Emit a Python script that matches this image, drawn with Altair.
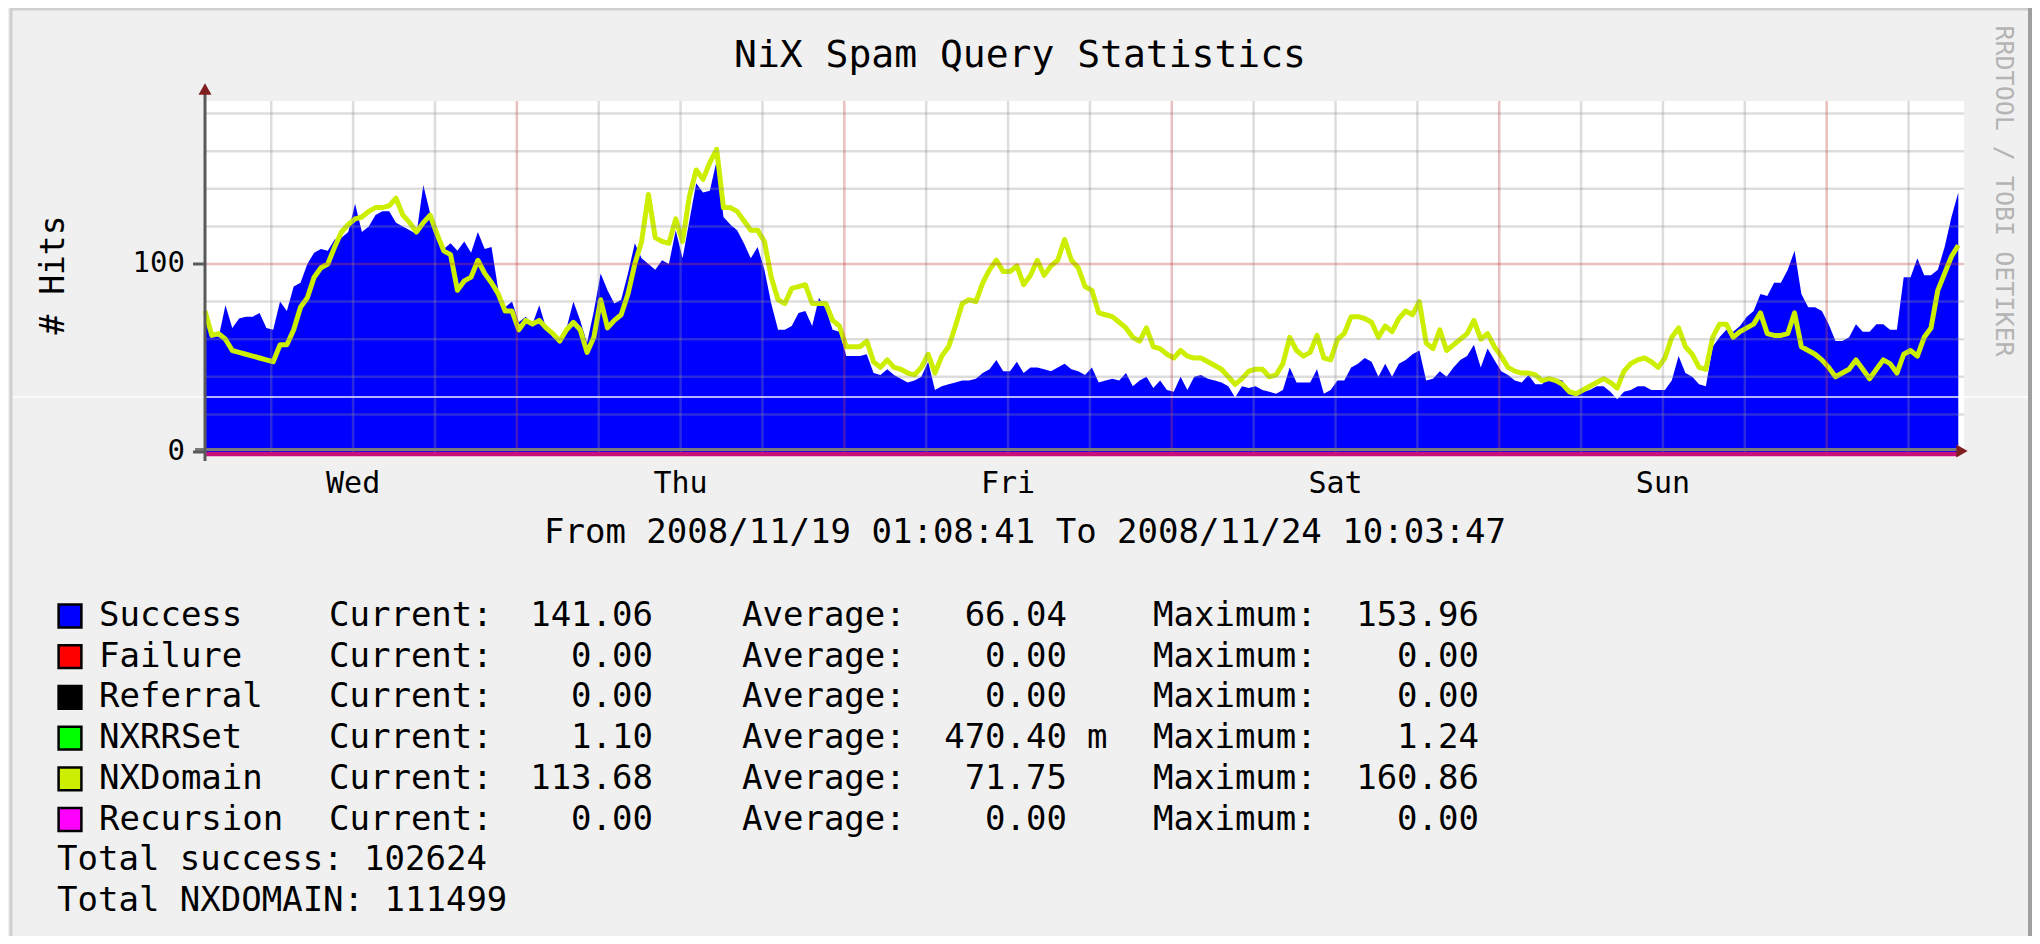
import altair as alt
import pandas as pd

# ---------------- texts ----------------
TITLE = "NiX Spam Query Statistics"
Y_TITLE = "# Hits"
WATERMARK = "RRDTOOL / TOBI OETIKER"
START = "2008-11-19 01:08:41"
END = "2008-11-24 10:03:47"
FONT = "DejaVu Sans Mono"

# ---------------- series (one value every half hour from START) ----------------
STEP_HOURS = 0.5
success = [
    77, 63, 61, 78, 66, 71, 72, 72, 74, 66,
    65, 80, 75, 88, 90, 100, 106, 108, 107, 113,
    114, 117, 132, 117, 120, 126, 128, 128, 122, 120,
    118, 116, 142, 127, 113, 108, 111, 107, 112, 106,
    117, 108, 109, 86, 77, 80, 69, 72, 68, 78,
    66, 61, 60, 66, 80, 70, 58, 75, 95, 86,
    79, 81, 95, 111, 103, 100, 97, 102, 100, 118,
    103, 123, 143, 138, 139, 155, 125, 121, 118, 111,
    103, 109, 97, 79, 65, 65, 67, 74, 75, 67,
    82, 76, 65, 64, 51, 51, 51, 52, 42, 41,
    44, 41, 39, 37, 38, 40, 48, 33, 35, 36,
    37, 38, 38, 39, 42, 44, 49, 43, 43, 48,
    42, 45, 45, 44, 43, 45, 47, 44, 43, 41,
    45, 37, 38, 39, 38, 42, 35, 38, 40, 34,
    38, 33, 32, 40, 33, 40, 41, 39, 38, 37,
    35, 29, 35, 34, 35, 33, 32, 31, 33, 45,
    37, 37, 37, 44, 31, 33, 38, 38, 45, 47,
    50, 48, 40, 47, 40, 47, 49, 52, 54, 38,
    39, 43, 40, 45, 49, 51, 57, 45, 55, 49,
    43, 41, 38, 37, 41, 36, 36, 40, 39, 38,
    31, 31, 32, 33, 35, 35, 32, 28, 32, 33,
    35, 35, 33, 33, 33, 38, 51, 42, 40, 36,
    35, 56, 61, 65, 64, 67, 72, 75, 84, 83,
    90, 90, 97, 107, 84, 77, 77, 75, 68, 59,
    59, 61, 68, 64, 64, 68, 68, 65, 65, 93,
    93, 103, 94, 94, 97, 109, 125, 138,
]
nxdomain = [
    75, 62, 63, 60, 54, 53, 52, 51, 50, 49,
    48, 57, 57, 65, 77, 82, 93, 98, 100, 109,
    117, 121, 124, 125, 128, 130, 130, 131, 135, 126,
    122, 117, 122, 126, 116, 107, 105, 86, 91, 93,
    102, 95, 90, 84, 75, 75, 65, 70, 68, 70,
    66, 63, 59, 65, 69, 65, 53, 61, 81, 66,
    70, 73, 84, 100, 112, 137, 114, 112, 111, 124,
    112, 136, 150, 145, 154, 161, 130, 130, 128, 123,
    118, 118, 112, 93, 81, 79, 87, 88, 89, 79,
    79, 79, 70, 67, 56, 56, 56, 59, 48, 45,
    49, 45, 44, 42, 41, 45, 52, 42, 51, 56,
    67, 79, 81, 80, 90, 97, 102, 96, 96, 99,
    89, 94, 102, 94, 99, 102, 113, 102, 98, 88,
    86, 74, 73, 72, 69, 66, 61, 59, 66, 56,
    55, 52, 50, 54, 51, 50, 50, 48, 46, 44,
    40, 36, 39, 43, 44, 44, 40, 41, 47, 61,
    54, 51, 53, 62, 50, 49, 60, 63, 72, 72,
    71, 69, 61, 67, 64, 71, 75, 73, 80, 58,
    55, 65, 54, 57, 60, 63, 70, 60, 63, 56,
    51, 45, 43, 42, 42, 41, 38, 39, 38, 36,
    32, 31, 33, 35, 37, 39, 37, 34, 43, 47,
    49, 50, 48, 45, 50, 61, 66, 56, 52, 45,
    44, 61, 68, 68, 61, 64, 66, 68, 74, 63,
    62, 62, 63, 74, 56, 54, 52, 49, 45, 40,
    42, 44, 49, 44, 39, 44, 49, 47, 42, 52,
    54, 51, 61, 66, 86, 95, 104, 110,
]
recursion_hours = [0.0, 128.5]
recursion = [0.0, 0.0]

# ---------------- axes ----------------
Y_TOP = 186.7
y_minor_grid = [20, 40, 60, 80, 120, 140, 160, 180]
y_major_grid = [100]
y_tick_labels = [0, 100]

# ---------------- legend ----------------
legend_names = ["Success", "Failure", "Referral", "NXRRSet", "NXDomain", "Recursion"]
legend_colors = ["#0000FF", "#FF0000", "#000000", "#00FF00", "#CCEE00", "#FF00FF"]
legend_current = [141.06, 0.00, 0.00, 1.10, 113.68, 0.00]
legend_average = [66.04, 0.00, 0.00, 470.40, 71.75, 0.00]
legend_average_unit = ["", "", "", "m", "", ""]
legend_maximum = [153.96, 0.00, 0.00, 1.24, 160.86, 0.00]
total_success = 102624
total_nxdomain = 111499

# ---------------- derived tables ----------------
start_ts = pd.Timestamp(START)
end_ts = pd.Timestamp(END)
HOUR = pd.Timedelta(hours=1)
span_h = float((end_ts - start_ts) / HOUR)

series = pd.DataFrame({
    "h": [i * STEP_HOURS for i in range(len(success))],
    "success": success,
    "nxdomain": nxdomain,
})
rec_df = pd.DataFrame({"h": recursion_hours, "v": recursion})

grid_t = pd.date_range("2008-11-19 06:00", end_ts, freq="6h")
vgrid = pd.DataFrame({"h": list((grid_t - start_ts) / HOUR), "major": list(grid_t.hour == 0)})
noon_t = pd.date_range("2008-11-19 12:00", end_ts, freq="D")
days = pd.DataFrame({"h": list((noon_t - start_ts) / HOUR), "label": list(noon_t.strftime("%a"))})
one = pd.DataFrame({"k": [0]})

xs = alt.Scale(domain=[0, span_h], nice=False, zero=False)
ys = alt.Scale(domain=[0, Y_TOP], nice=False, zero=False)


def X(f):
    return alt.X(f, type="quantitative", scale=xs, axis=None)


def Y(f):
    return alt.Y(f, type="quantitative", scale=ys, axis=None)


def label(text, x, y, size=34, align="left", baseline="alphabetic", angle=0, color="#000000", lh=40.7):
    return alt.Chart(one).mark_text(
        font=FONT, fontSize=size, align=align, baseline=baseline, angle=angle,
        color=color, lineHeight=lh,
    ).encode(x=alt.value(x), y=alt.value(y), text=alt.value(text))


layers = []

# data
layers.append(alt.Chart(series).mark_area(color="#0000FF", opacity=1, interpolate="linear")
              .encode(x=X("h"), y=Y("success")))
layers.append(alt.Chart(series).mark_line(color="#CCEE00", strokeWidth=5, strokeJoin="round", interpolate="linear")
              .encode(x=X("h"), y=Y("nxdomain")))

# grid (drawn over the data, translucent like rrdtool)
layers.append(alt.Chart(pd.DataFrame({"v": y_minor_grid})).mark_rule(color="#8F8F8F", opacity=0.3, strokeWidth=2.5)
              .encode(y=Y("v")))
layers.append(alt.Chart(pd.DataFrame({"v": y_major_grid})).mark_rule(color="#C04848", opacity=0.35, strokeWidth=2.5)
              .encode(y=Y("v")))
layers.append(alt.Chart(vgrid[~vgrid["major"]]).mark_rule(color="#8F8F8F", opacity=0.3, strokeWidth=2.5)
              .encode(x=X("h")))
layers.append(alt.Chart(vgrid[vgrid["major"]]).mark_rule(color="#C04848", opacity=0.35, strokeWidth=2.5)
              .encode(x=X("h")))

# faint scan line crossing the picture
layers.append(alt.Chart(one).mark_rule(color="white", opacity=0.7, strokeWidth=2)
              .encode(x=alt.value(-195), x2=alt.value(1825), y=alt.value(296)))

# recursion (zero) line and axes
layers.append(alt.Chart(rec_df).mark_line(color="#C8107A", strokeWidth=4.5, yOffset=2)
              .encode(x=X("h"), y=Y("v")))
layers.append(alt.Chart(one).mark_rule(color="#7A7A7A", strokeWidth=3)
              .encode(x=alt.value(-10), x2=alt.value(1752), y=alt.value(348.5)))
layers.append(alt.Chart(one).mark_rule(color="#5A5A5A", strokeWidth=3)
              .encode(x=alt.value(0), y=alt.value(-8), y2=alt.value(360)))
layers.append(alt.Chart(pd.DataFrame({"v": y_tick_labels})).mark_rule(color="#5A5A5A", strokeWidth=3)
              .encode(x=alt.value(-12), x2=alt.value(0), y=Y("v")))
layers.append(alt.Chart(one).mark_point(shape="triangle-up", filled=True, color="#801F1F", size=170, opacity=1)
              .encode(x=alt.value(0), y=alt.value(-12)))
layers.append(alt.Chart(one).mark_point(shape="triangle-right", filled=True, color="#801F1F", size=170, opacity=1)
              .encode(x=alt.value(1757), y=alt.value(350)))

# tick labels
layers.append(alt.Chart(pd.DataFrame({"v": y_tick_labels})).mark_text(
    font=FONT, fontSize=29, align="right", baseline="middle", dy=-1, color="#000000")
    .encode(x=alt.value(-20), y=Y("v"), text=alt.Text("v:Q", format="d")))
layers.append(alt.Chart(days).mark_text(font=FONT, fontSize=30, align="center", baseline="alphabetic", color="#000000")
              .encode(x=X("h"), y=alt.value(392), text="label:N"))

# titles
layers.append(label(TITLE, 815, -34, size=38, align="center"))
layers.append(label(Y_TITLE, -151, 174, size=33, align="center", baseline="middle", angle=270))
layers.append(label(f"From {start_ts:%Y/%m/%d %H:%M:%S} To {end_ts:%Y/%m/%d %H:%M:%S}", 820, 442, size=34, align="center"))
layers.append(label(WATERMARK, 1799, 90, size=25, align="center", baseline="middle", angle=90, color="#B4B4B4"))

# legend
LEG_Y = 525
LEG_LH = 40.7
for i, c in enumerate(legend_colors):
    layers.append(alt.Chart(one).mark_point(shape="square", filled=True, fill=c, stroke="#000000",
                                            strokeWidth=2.5, size=520, opacity=1)
                  .encode(x=alt.value(-135), y=alt.value(LEG_Y - 10 + i * LEG_LH)))
layers.append(label(legend_names, -106, LEG_Y))
layers.append(label(["Current:"] * len(legend_names), 124, LEG_Y))
layers.append(label([f"{v:.2f}" for v in legend_current], 448, LEG_Y, align="right"))
layers.append(label(["Average:"] * len(legend_names), 537, LEG_Y))
layers.append(label([f"{v:.2f}" for v in legend_average], 862, LEG_Y, align="right"))
for i, unit in enumerate(legend_average_unit):
    if unit:
        layers.append(label(unit, 882, LEG_Y + i * LEG_LH))
layers.append(label(["Maximum:"] * len(legend_names), 948, LEG_Y))
layers.append(label([f"{v:.2f}" for v in legend_maximum], 1274, LEG_Y, align="right"))
layers.append(label([f"Total success: {total_success}", f"Total NXDOMAIN: {total_nxdomain}"],
                    -148, LEG_Y + 6 * LEG_LH))

# frame
layers.append(alt.Chart(one).mark_rule(color="#CFCFCF", strokeWidth=3)
              .encode(x=alt.value(-195), x2=alt.value(1827), y=alt.value(-92)))
layers.append(alt.Chart(one).mark_rule(color="#CFCFCF", strokeWidth=3)
              .encode(x=alt.value(-194), y=alt.value(-93), y2=alt.value(835)))
layers.append(alt.Chart(one).mark_rule(color="#9E9E9E", strokeWidth=4)
              .encode(x=alt.value(1825), y=alt.value(-93), y2=alt.value(835)))

chart = alt.layer(*layers).properties(
    width=1759,
    height=351,
    padding={"left": 197, "top": 93, "right": 68, "bottom": 484},
    autosize=alt.AutoSizeParams(type="none"),
).configure(background="#F0F0F0", font=FONT).configure_view(stroke=None, fill="white")

chart.save("out.html", embed_options={"renderer": "svg", "actions": False})
